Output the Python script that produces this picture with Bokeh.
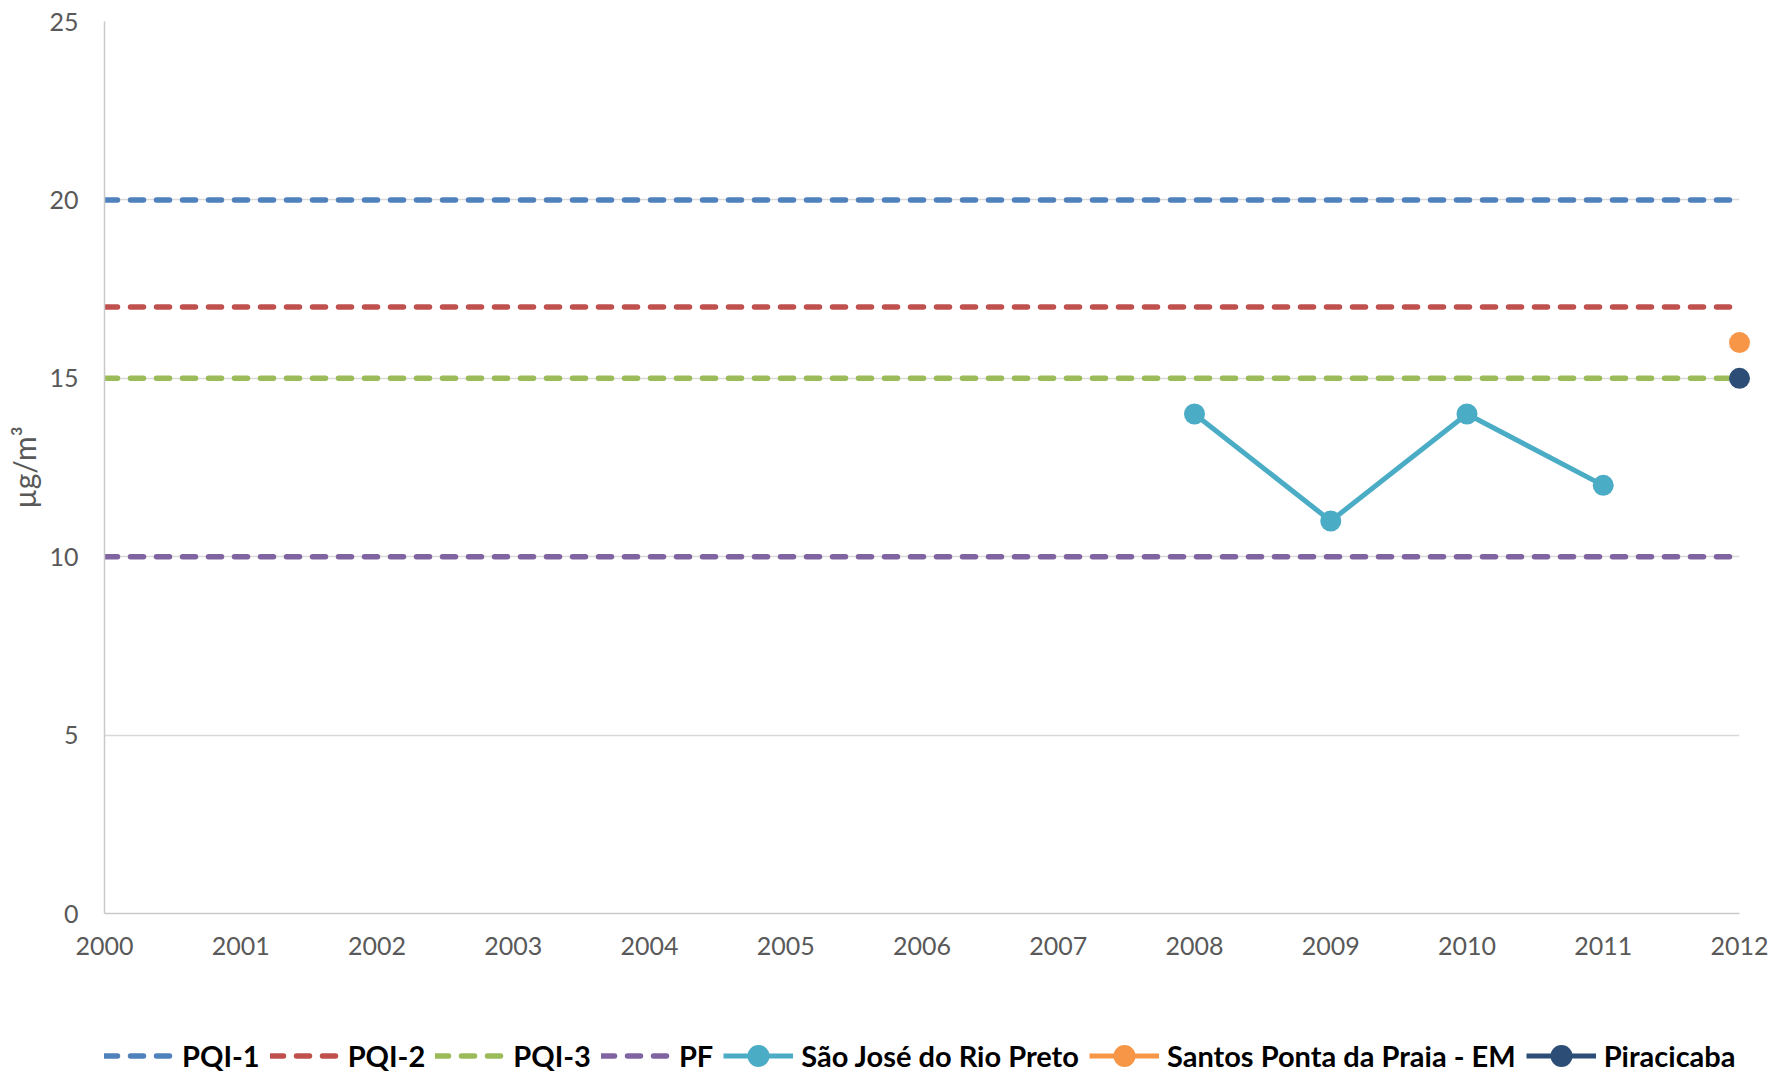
from bokeh.plotting import figure
from bokeh.models import Range1d, FixedTicker, Legend, LegendItem
from bokeh.layouts import column
from bokeh.embed import file_html
from bokeh.resources import INLINE

years = [2000, 2001, 2002, 2003, 2004, 2005, 2006, 2007, 2008, 2009, 2010, 2011, 2012]
pqi1 = [20, 20, 20, 20, 20, 20, 20, 20, 20, 20, 20, 20, 20]
pqi2 = [17, 17, 17, 17, 17, 17, 17, 17, 17, 17, 17, 17, 17]
pqi3 = [15, 15, 15, 15, 15, 15, 15, 15, 15, 15, 15, 15, 15]
pf = [10, 10, 10, 10, 10, 10, 10, 10, 10, 10, 10, 10, 10]

sj_years = [2008, 2009, 2010, 2011]
sj_values = [14, 11, 14, 12]
santos_years = [2012]
santos_values = [16]
pira_years = [2012]
pira_values = [15]

y_ticks = [0, 5, 10, 15, 20, 25]

series_labels = ["PQI-1", "PQI-2", "PQI-3", "PF", "São José do Rio Preto",
                 "Santos Ponta da Praia - EM", "Piracicaba"]

C_PQI1 = "#4F81BD"
C_PQI2 = "#C0504D"
C_PQI3 = "#9BBB59"
C_PF = "#8064A2"
C_SJ = "#4BACC6"
C_SANTOS = "#F79646"
C_PIRA = "#2C4D75"

FONT = "Lato"
TXT = "#595959"
LW = 5.5
SLW = 5
DASH = "13 13"
MS = 21

dashed = [(years, pqi1, C_PQI1), (years, pqi2, C_PQI2), (years, pqi3, C_PQI3), (years, pf, C_PF)]
marked = [(sj_years, sj_values, C_SJ, "glyph"),
          (santos_years, santos_values, C_SANTOS, "overlay"),
          (pira_years, pira_values, C_PIRA, "overlay")]

# ---------------- main chart ----------------
p = figure(width=1769, height=1010, output_backend="svg", toolbar_location=None,
           x_range=Range1d(2000, 2012), y_range=Range1d(0, 25),
           min_border_left=104, min_border_right=30, min_border_top=21, min_border_bottom=97)
p.outline_line_color = None
p.background_fill_color = "white"
p.border_fill_color = "white"

p.xgrid.grid_line_color = None
p.ygrid.grid_line_color = "#D9D9D9"
p.ygrid.grid_line_width = 1.3
p.ygrid.ticker = FixedTicker(ticks=y_ticks)

for ax in (p.xaxis[0], p.yaxis[0]):
    ax.axis_line_color = "#C9C9C9"
    ax.axis_line_width = 1.5
    ax.major_tick_line_color = None
    ax.minor_tick_line_color = None
    ax.major_label_text_font = FONT
    ax.major_label_text_font_size = "25px"
    ax.major_label_text_color = TXT

p.xaxis.ticker = FixedTicker(ticks=years)
p.xaxis.major_label_standoff = 17

p.yaxis.ticker = FixedTicker(ticks=y_ticks)
p.yaxis.major_label_standoff = 20
p.yaxis.axis_label = "µg/m³"
p.yaxis.axis_label_text_font = FONT
p.yaxis.axis_label_text_font_size = "30px"
p.yaxis.axis_label_text_font_style = "normal"
p.yaxis.axis_label_text_color = TXT
p.yaxis.axis_label_standoff = 4

for xs, ys, col in dashed:
    p.line(xs, ys, line_color=col, line_width=LW, line_dash=DASH, line_cap="round")
for xs, ys, col, lvl in marked:
    p.line(xs, ys, line_color=col, line_width=SLW, level=lvl)
    p.scatter(xs, ys, size=MS, fill_color=col, line_color=None, level=lvl)

# ---------------- legend strip ----------------
# Same series drawn again in a strip whose ranges exclude them, so only the
# legend keys are visible.
lg = figure(width=1769, height=62, output_backend="svg", toolbar_location=None,
            x_range=Range1d(0, 1), y_range=Range1d(0, 1),
            x_axis_location=None, y_axis_location=None,
            min_border_left=0, min_border_right=0, min_border_top=0, min_border_bottom=0)
lg.outline_line_color = None
lg.grid.grid_line_color = None
lg.background_fill_color = "white"
lg.border_fill_color = "white"

groups = []
for xs, ys, col in dashed:
    groups.append([lg.line(xs, ys, line_color=col, line_width=LW, line_dash=DASH, line_cap="round")])
for xs, ys, col, lvl in marked:
    groups.append([lg.line(xs, ys, line_color=col, line_width=SLW),
                   lg.scatter(xs, ys, size=MS, fill_color=col, line_color=None)])

items = [LegendItem(label=lab, renderers=rs) for lab, rs in zip(series_labels, groups)]
legend = Legend(items=items, orientation="horizontal", location=(0, -10.5))
legend.padding = 0
legend.margin = 0
legend.spacing = 10
legend.label_standoff = 8
legend.glyph_width = 70
legend.glyph_height = 55
legend.label_text_font = FONT
legend.label_text_font_size = "29px"
legend.label_text_font_style = "bold"
legend.label_text_color = "black"
legend.border_line_color = None
legend.background_fill_alpha = 0
lg.add_layout(legend)

layout = column(p, lg, spacing=0)
open("out.html", "w").write(file_html(layout, INLINE))
